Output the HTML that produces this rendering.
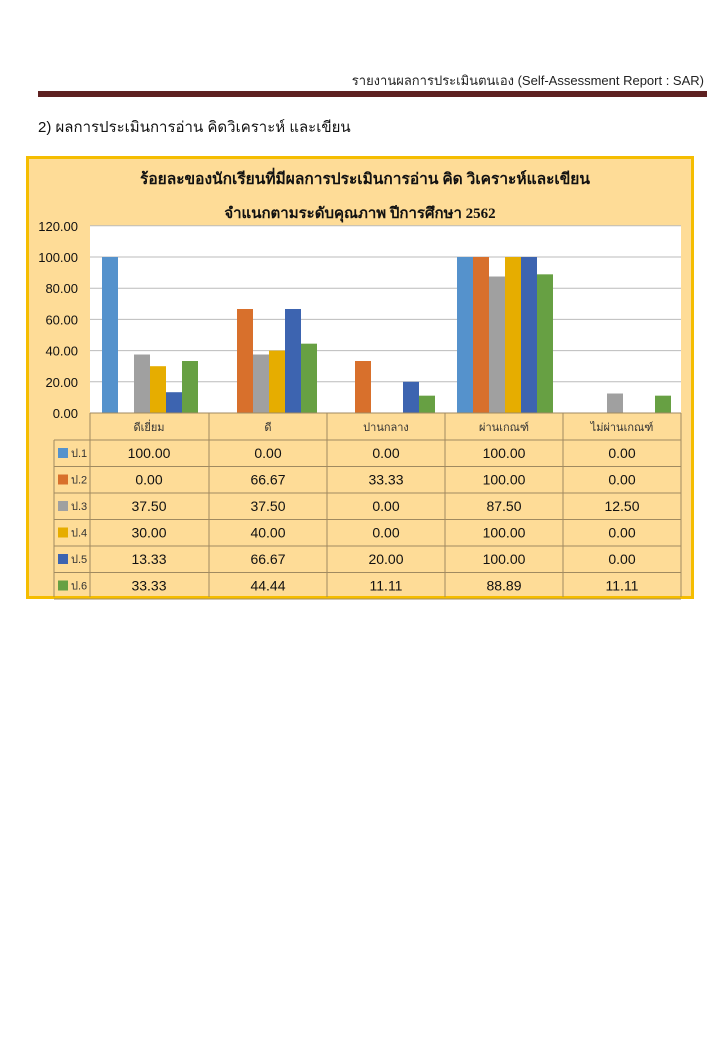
<!DOCTYPE html>
<html><head><meta charset="utf-8">
<style>
body{margin:0;background:#fff;width:720px;height:1040px;position:relative;overflow:hidden;font-family:"Liberation Sans","Noto Sans CJK SC",sans-serif;}
.hdr{position:absolute;right:16px;top:70px;font-size:13px;color:#222;}
.bar{position:absolute;left:38px;top:91px;width:669px;height:6px;background:#5e2121;}
.h2{position:absolute;left:38px;top:115px;font-size:15px;color:#111;}
</style></head><body>
<div class="hdr">รายงานผลการประเมินตนเอง (Self-Assessment Report : SAR)</div>
<div class="bar"></div>
<div class="h2">2) ผลการประเมินการอ่าน คิดวิเคราะห์ และเขียน</div>
<svg id="s" style="position:absolute;left:0;top:0" width="720" height="1040" xmlns="http://www.w3.org/2000/svg"></svg>
<script>
var s=document.getElementById('s'),h='';
h+='<rect x="27.5" y="157.5" width="665" height="440" fill="#fedc97" stroke="#f5bd00" stroke-width="3"/>';
h+='<text x="365" y="184" text-anchor="middle" font-family="Liberation Serif,Noto Serif CJK SC,serif" font-weight="bold" font-size="15.5" fill="#111" textLength="450" lengthAdjust="spacingAndGlyphs">ร้อยละของนักเรียนที่มีผลการประเมินการอ่าน คิด วิเคราะห์และเขียน</text>';
h+='<text x="360" y="218" text-anchor="middle" font-family="Liberation Serif,Noto Serif CJK SC,serif" font-weight="bold" font-size="15" fill="#111">จำแนกตามระดับคุณภาพ ปีการศึกษา 2562</text>';
h+='<rect x="90" y="226" width="591" height="187" fill="#fff"/>';
for(var i=0;i<=6;i++){var y=413-i*31.2;h+='<line x1="90" x2="681" y1="'+y+'" y2="'+y+'" stroke="#bbb" stroke-width="1"/>';h+='<text x="78" y="'+(y+5)+'" text-anchor="end" font-size="13" fill="#111">'+(i*20).toFixed(2)+'</text>';}
var cats=['ดีเยี่ยม','ดี','ปานกลาง','ผ่านเกณฑ์','ไม่ผ่านเกณฑ์'];
var cols=['#5592cc','#d8702c','#a0a0a0','#e6ad00','#3d64b0','#67a043'];
var d=[[100,0,0,100,0],[0,66.67,33.33,100,0],[37.5,37.5,0,87.5,12.5],[30,40,0,100,0],[13.33,66.67,20,100,0],[33.33,44.44,11.11,88.89,11.11]];
var cx=[90,209,327,445,563,681];
for(var si=0;si<6;si++)for(var c=0;c<5;c++){var v=d[si][c];if(v<=0)continue;var hh=v*1.56;h+='<rect x="'+(cx[c]+12+si*16)+'" y="'+(413-hh)+'" width="16" height="'+hh+'" fill="'+cols[si]+'"/>';}
var rh=26.5;
h+='<g stroke="#a08a60" stroke-width="1" fill="none">';
for(var k=0;k<6;k++)h+='<line x1="'+cx[k]+'" x2="'+cx[k]+'" y1="413" y2="597"/>';
h+='<line x1="54" x2="54" y1="440" y2="597"/>';
h+='<line x1="90" x2="681" y1="413" y2="413"/>';
for(var r=0;r<=6;r++){var y=440+r*rh;h+='<line x1="54" x2="681" y1="'+y+'" y2="'+y+'"/>';}
h+='</g>';
for(var c=0;c<5;c++)h+='<text x="'+(cx[c]+59)+'" y="431" text-anchor="middle" font-size="11" fill="#333">'+cats[c]+'</text>';
for(var r=0;r<6;r++){var y=440+r*rh;h+='<rect x="58" y="'+(y+8)+'" width="10" height="10" fill="'+cols[r]+'"/>';h+='<text x="71" y="'+(y+17)+'" font-size="11" fill="#333">ป.'+(r+1)+'</text>';
for(var c=0;c<5;c++)h+='<text x="'+(cx[c]+59)+'" y="'+(y+18)+'" text-anchor="middle" font-size="14" fill="#111">'+d[r][c].toFixed(2)+'</text>';}
s.innerHTML=h;
</script>
</body></html>
